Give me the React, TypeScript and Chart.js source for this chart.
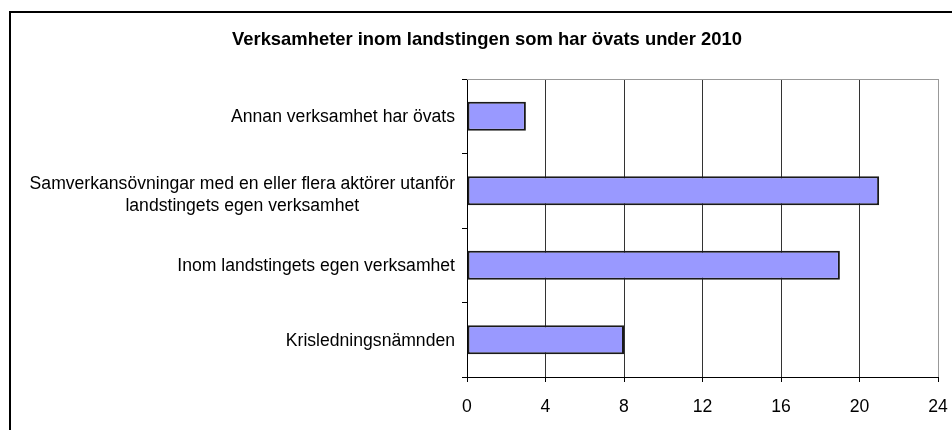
import React, { useEffect, useRef } from "react";
import { Chart, registerables } from "chart.js";

Chart.register(...registerables);

const TITLE = "Verksamheter inom landstingen som har övats under 2010";
const categories: (string | string[])[] = [
  "Annan verksamhet har övats",
  ["Samverkansövningar med en eller flera aktörer utanför", "landstingets egen verksamhet"],
  "Inom landstingets egen verksamhet",
  "Krisledningsnämnden",
];
const values = [3, 21, 19, 8];
const X_MIN = 0;
const X_MAX = 24;
const X_STEP = 4;

const FONT = '"Liberation Sans", Arial, sans-serif';
const LABEL_SIZE = 17.6;

const titlePlugin = {
  id: "customTitle",
  afterDraw(chart: any) {
    const ctx = chart.ctx;
    ctx.save();
    ctx.font = `bold 18.4px ${FONT}`;
    ctx.fillStyle = "#000";
    ctx.textAlign = "center";
    ctx.textBaseline = "middle";
    ctx.fillText(TITLE, 487, 40);
    ctx.restore();
  },
};

const frameAndLabels = {
  id: "frameAndLabels",
  beforeDatasetsDraw(chart: any) {
    const { ctx, chartArea } = chart;
    ctx.save();
    ctx.strokeStyle = "#999";
    ctx.lineWidth = 1;
    ctx.beginPath();
    ctx.moveTo(chartArea.left, chartArea.top + 0.5);
    ctx.lineTo(chartArea.right, chartArea.top + 0.5);
    ctx.stroke();
    ctx.restore();
  },
  afterDraw(chart: any) {
    const ctx = chart.ctx;
    const y = chart.scales.y;
    ctx.save();
    ctx.font = `${LABEL_SIZE}px ${FONT}`;
    ctx.fillStyle = "#000";
    ctx.textBaseline = "middle";
    ctx.textAlign = "center";
    const right = y.right - 12;
    const lh = 22;
    categories.forEach((lab, i) => {
      const lines = Array.isArray(lab) ? lab : [lab];
      const cy = y.getPixelForValue(i) + 1;
      const maxW = Math.max(...lines.map((l) => ctx.measureText(l).width));
      lines.forEach((l, j) => {
        const ly = cy + (j - (lines.length - 1) / 2) * lh + (lines.length > 1 ? 3 : 0);
        ctx.fillText(l, right - maxW / 2, ly);
      });
    });
    ctx.restore();
  },
};

export default function App() {
  const ref = useRef<HTMLCanvasElement | null>(null);
  useEffect(() => {
    if (!ref.current) return;
    const chart = new Chart(ref.current, {
      type: "bar",
      data: {
        labels: categories as any,
        datasets: [
          {
            data: values,
            backgroundColor: "#9999FF",
            borderColor: "#1a1a1a",
            borderWidth: 2,
            borderSkipped: false,
            categoryPercentage: 0.8,
            barPercentage: 0.49,
          },
        ],
      },
      options: {
        indexAxis: "y",
        animation: false,
        responsive: false,
        devicePixelRatio: 1,
        layout: { padding: { top: 79, right: 14, left: 0, bottom: 0 } },
        plugins: {
          legend: { display: false },
          title: { display: false },
          tooltip: { enabled: false },
        },
        scales: {
          x: {
            min: X_MIN,
            max: X_MAX,
            ticks: {
              stepSize: X_STEP,
              color: "#000",
              font: { family: FONT, size: LABEL_SIZE },
              padding: 15,
              maxRotation: 0,
            },
            grid: {
              color: (c: any) => (c.tick && c.tick.value === X_MAX ? "#999" : "#333"),
              tickColor: "#000",
              tickLength: 5,
              lineWidth: 1,
            },
            border: { display: true, color: "#000", width: 1 },
            afterFit: (s: any) => {
              s.height = 53;
              s.paddingLeft = 0;
              s.paddingRight = 0;
            },
          },
          y: {
            ticks: { display: false },
            grid: {
              drawOnChartArea: false,
              drawTicks: true,
              tickLength: 5,
              tickColor: "#000",
              offset: true,
            },
            border: { display: true, color: "#000", width: 1 },
            afterFit: (s: any) => {
              s.width = 467;
              s.paddingTop = 0;
              s.paddingBottom = 0;
            },
          },
        },
      },
      plugins: [titlePlugin, frameAndLabels],
    });
    return () => chart.destroy();
  }, []);

  return (
    <div
      style={{
        position: "fixed",
        left: 0,
        top: 0,
        width: 952,
        height: 430,
        overflow: "hidden",
        background: "#fff",
      }}
    >
      <canvas ref={ref} width={952} height={430} style={{ position: "absolute", left: 0, top: 0 }} />
      <div
        style={{
          position: "absolute",
          left: 9,
          top: 11,
          width: 2000,
          height: 2000,
          borderLeft: "2px solid #000",
          borderTop: "2px solid #000",
          pointerEvents: "none",
        }}
      />
    </div>
  );
}
